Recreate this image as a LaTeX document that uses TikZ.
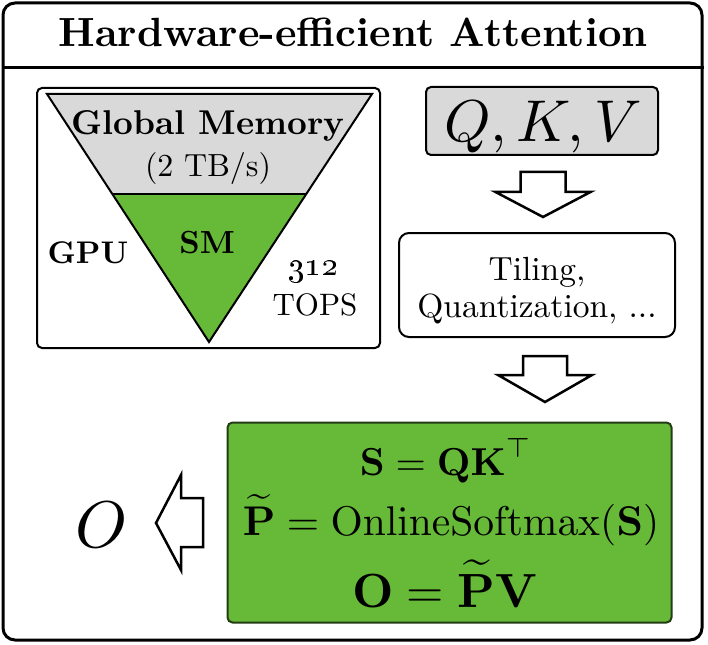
\documentclass[tikz,border=0pt]{standalone}
\usepackage{amsmath,amssymb}
\usetikzlibrary{positioning}

\definecolor{memgray}{RGB}{217,217,217}
\definecolor{smgreen}{RGB}{103,186,56}
\definecolor{boxgreen}{RGB}{35,60,20}

\begin{document}
\begin{tikzpicture}[
  x=1pt, y=-1pt,
  frame/.style={draw, line width=3pt, rounded corners=12pt, inner sep=0pt},
  panel/.style={draw, line width=2pt, rounded corners=5pt, inner sep=0pt},
  txt/.style={inner sep=0pt, anchor=base},
  blockarr/.style={draw, line width=2.5pt, fill=white, line join=miter},
]
\useasboundingbox (0,0) rectangle (708,644);
% outer frame and title bar
\node[frame, minimum width=699pt, minimum height=637pt] (outer) at (352.5,321.5) {};
\draw[line width=3pt] (outer.west |- 0,68) -- (outer.east |- 0,68);
\node[txt, scale=4.08, font=\bfseries] (title) at (353,47) {Hardware-efficient Attention};

% GPU memory hierarchy
\node[panel, minimum width=343pt, minimum height=260pt] (gpu) at (208.5,218) {};
\coordinate (memL) at (47,94);
\coordinate (memR) at (372,94);
\coordinate (smL) at (112.3,194);
\coordinate (smR) at (306.3,194);
\coordinate (smtip) at (209,342);
\fill[memgray] (memL) -- (memR) -- (smR) -- (smL) -- cycle;
\fill[smgreen] (smL) -- (smR) -- (smtip) -- cycle;
\draw[line width=2pt, line join=miter] (memL) -- (memR) -- (smtip) -- cycle;
\draw[line width=2pt] (smL) -- (smR);
\node[txt, scale=3.44, font=\bfseries] (gmem) at (208,135) {Global Memory};
\node[txt, scale=3.2] (bw) at (208,177) {(2 TB/s)};
\node[txt, scale=3.2, font=\bfseries] (sm) at (207,253) {SM};
\node[txt, scale=3.13, font=\bfseries] (gpulbl) at (88,263) {GPU};
\node[txt, scale=3.3] (tops) at (313,275) {\oldstylenums{312}};
\node[txt, scale=3.1] (topslbl) at (315,315) {TOPS};

% right column
\node[panel, fill=memgray, minimum width=232pt, minimum height=68pt] (qkv) at (542,121) {};
\node[txt, scale=5.9] (qkvlbl) at (543,142) {$Q, K, V$};
\node[panel, rounded corners=10pt, minimum width=276pt, minimum height=104pt] (tiling) at (537,285) {};
\node[txt, scale=3.35] (tile1) at (537,280) {Tiling,};
\node[txt, scale=3.35] (tile2) at (537,317) {Quantization, ...};

% attention kernel
\node[panel, fill=smgreen, draw=boxgreen, minimum width=444pt, minimum height=200pt] (attn) at (449.5,522.5) {};
\node[txt, scale=3.9] (eqS) at (446,475) {$\mathbf{S} = \mathbf{QK}^{\top}$};
\node[txt, scale=4.15] (eqP) at (451,535) {$\widetilde{\mathbf{P}} = \mathrm{OnlineSoftmax}(\mathbf{S})$};
\node[txt, scale=4.8] (eqO) at (445,607) {$\mathbf{O} = \widetilde{\mathbf{P}}\mathbf{V}$};
\node[txt, scale=6.6] (out) at (102,547) {$O$};

% block arrows
\draw[blockarr] (520.5,172) -- (565.5,172) -- (565.5,192) -- (590.5,192) -- (543,217) -- (495.5,192) -- (520.5,192) -- cycle;
\draw[blockarr] (523,356) -- (567,356) -- (567,375) -- (592,375) -- (545,402) -- (498,375) -- (523,375) -- cycle;
\draw[blockarr] (203,498) -- (203,547) -- (181,547) -- (181,570) -- (156,523) -- (181,475) -- (181,498) -- cycle;
\end{tikzpicture}
\end{document}
